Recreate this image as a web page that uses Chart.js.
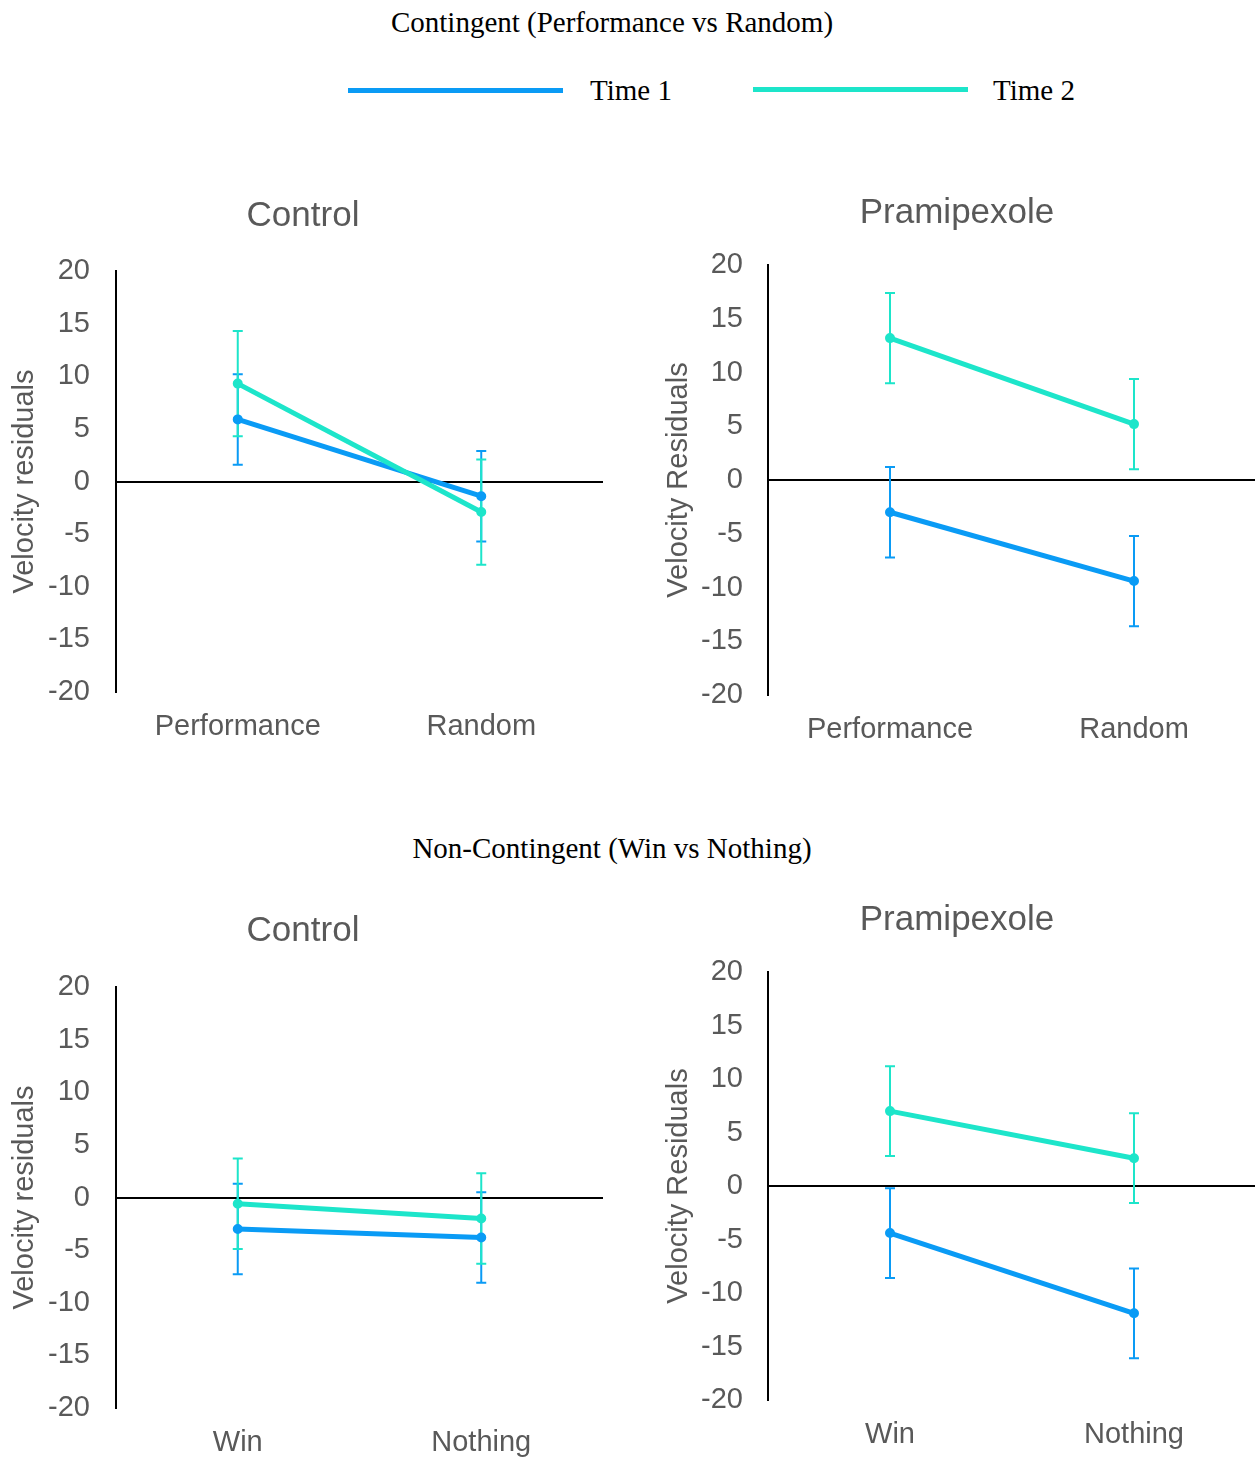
<!DOCTYPE html>
<html>
<head>
<meta charset="utf-8">
<script src="https://cdn.jsdelivr.net/npm/chart.js@4"></script>
<style>
  html, body { margin: 0; padding: 0; background: #fff; }
  body { width: 1255px; height: 1458px; position: relative; overflow: hidden; }
  canvas { position: absolute; }
  .head { position: absolute; left: 0; width: 1224px; text-align: center;
          font-family: "Liberation Serif", "Times New Roman", serif; font-size: 29px; color: #000; }
  .legline { position: absolute; height: 5px; }
  .legtext { position: absolute; font-family: "Liberation Serif", serif; font-size: 29px; color: #000; }
</style>
</head>
<body>
<div class="head" style="top:6px">Contingent (Performance vs Random)</div>
<div class="legline" style="left:348px; top:88px; width:215px; background:#0A9BF5"></div>
<div class="legtext" style="left:590px; top:74px">Time 1</div>
<div class="legline" style="left:753px; top:87px; width:215px; background:#1DE5CA"></div>
<div class="legtext" style="left:993px; top:74px">Time 2</div>
<div class="head" style="top:832px">Non-Contingent (Win vs Nothing)</div>

<canvas id="c1" width="612" height="550" style="left:0; top:195px"></canvas>
<canvas id="c2" width="606" height="556" style="left:659px; top:192px"></canvas>
<canvas id="c3" width="612" height="551" style="left:0; top:910px"></canvas>
<canvas id="c4" width="606" height="554" style="left:659px; top:899px"></canvas>

<script>
// categories
const contingentLabels = ["Performance", "Random"];
const nonContingentLabels = ["Win", "Nothing"];
const yMin = -20, yMax = 20, yStep = 5;

// Contingent, Control
const ctrlContTime1 = [5.9, -1.4];
const ctrlContTime1Err = [4.3, 4.3];
const ctrlContTime2 = [9.3, -2.9];
const ctrlContTime2Err = [5.0, 5.0];

// Contingent, Pramipexole
const pramContTime1 = [-3.0, -9.4];
const pramContTime1Err = [4.2, 4.2];
const pramContTime2 = [13.2, 5.2];
const pramContTime2Err = [4.2, 4.2];

// Non-contingent, Control
const ctrlNonTime1 = [-3.0, -3.8];
const ctrlNonTime1Err = [4.3, 4.3];
const ctrlNonTime2 = [-0.6, -2.0];
const ctrlNonTime2Err = [4.3, 4.3];

// Non-contingent, Pramipexole
const pramNonTime1 = [-4.4, -11.9];
const pramNonTime1Err = [4.2, 4.2];
const pramNonTime2 = [7.0, 2.6];
const pramNonTime2Err = [4.2, 4.2];

const BLUE = "#0A9BF5";
const TEAL = "#1DE5CA";
const GREY = "#595959";
const SANS = "Liberation Sans, Arial, sans-serif";

// draws error bars from dataset.errors using the y scale
const errorBars = {
  id: "errorBars",
  beforeDatasetsDraw(chart) {
    const ctx = chart.ctx;
    const y = chart.scales.y;
    chart.data.datasets.forEach((ds, i) => {
      const meta = chart.getDatasetMeta(i);
      meta.data.forEach((pt, j) => {
        const v = ds.data[j], e = ds.errors[j];
        const top = y.getPixelForValue(v + e);
        const bot = y.getPixelForValue(v - e);
        ctx.save();
        ctx.strokeStyle = ds.borderColor;
        ctx.lineWidth = 2;
        ctx.beginPath();
        ctx.moveTo(pt.x, top); ctx.lineTo(pt.x, bot);
        ctx.moveTo(pt.x - 5, top); ctx.lineTo(pt.x + 5, top);
        ctx.moveTo(pt.x - 5, bot); ctx.lineTo(pt.x + 5, bot);
        ctx.stroke();
        ctx.restore();
      });
    });
  },
};

function makePanel(id, title, yTitle, labels, t1, t1e, t2, t2e, opts) {
  new Chart(document.getElementById(id), {
    type: "line",
    data: {
      labels,
      datasets: [
        { label: "Time 1", data: t1, errors: t1e, borderColor: BLUE, backgroundColor: BLUE,
          borderWidth: 5, pointRadius: 2.5, order: 1 },
        { label: "Time 2", data: t2, errors: t2e, borderColor: TEAL, backgroundColor: TEAL,
          borderWidth: 5, pointRadius: 2.5, order: 0 },
      ],
    },
    plugins: [errorBars],
    options: {
      responsive: false,
      animation: false,
      devicePixelRatio: 1,
      layout: { padding: { top: 0, right: 0, bottom: 0, left: opts.padLeft } },
      plugins: {
        legend: { display: false },
        tooltip: { enabled: false },
        title: {
          display: true,
          text: title,
          color: GREY,
          font: { family: SANS, size: 35, weight: "normal" },
          padding: { top: 0, bottom: opts.titlePad },
        },
      },
      scales: {
        x: {
          offset: true,
          afterFit: (scale) => {
            scale.height = 53;
            scale.paddingLeft = 0;
            scale.paddingRight = 0;
          },
          grid: { display: false, drawTicks: false },
          border: { display: false },
          ticks: { color: GREY, padding: 18, maxRotation: 0, font: { family: SANS, size: 29 } },
        },
        y: {
          min: yMin,
          max: yMax,
          afterFit: (scale) => { scale.width = opts.axisWidth; },
          ticks: { stepSize: yStep, color: GREY, padding: opts.tickPad,
                   font: { family: SANS, size: 29 } },
          grid: {
            drawTicks: false,
            lineWidth: 2,
            color: (c) => (c.tick && c.tick.value === 0 ? "#000" : "rgba(0,0,0,0)"),
          },
          border: { display: true, color: "#000", width: 2 },
          title: {
            display: true,
            text: yTitle,
            color: GREY,
            font: { family: SANS, size: 29 },
            padding: { top: opts.yTitlePad, bottom: 0 },
          },
        },
      },
    },
  });
}

makePanel("c1", "Control", "Velocity residuals", contingentLabels,
  ctrlContTime1, ctrlContTime1Err, ctrlContTime2, ctrlContTime2Err,
  { padLeft: -6, titlePad: 34, axisWidth: 122, tickPad: 26, yTitlePad: 14 });
makePanel("c2", "Pramipexole", "Velocity Residuals", contingentLabels,
  pramContTime1, pramContTime1Err, pramContTime2, pramContTime2Err,
  { padLeft: -10, titlePad: 31, axisWidth: 119, tickPad: 25, yTitlePad: 13 });
makePanel("c3", "Control", "Velocity residuals", nonContingentLabels,
  ctrlNonTime1, ctrlNonTime1Err, ctrlNonTime2, ctrlNonTime2Err,
  { padLeft: -6, titlePad: 35, axisWidth: 122, tickPad: 26, yTitlePad: 14 });
makePanel("c4", "Pramipexole", "Velocity Residuals", nonContingentLabels,
  pramNonTime1, pramNonTime1Err, pramNonTime2, pramNonTime2Err,
  { padLeft: -10, titlePad: 31, axisWidth: 119, tickPad: 25, yTitlePad: 13 });
</script>
</body>
</html>
